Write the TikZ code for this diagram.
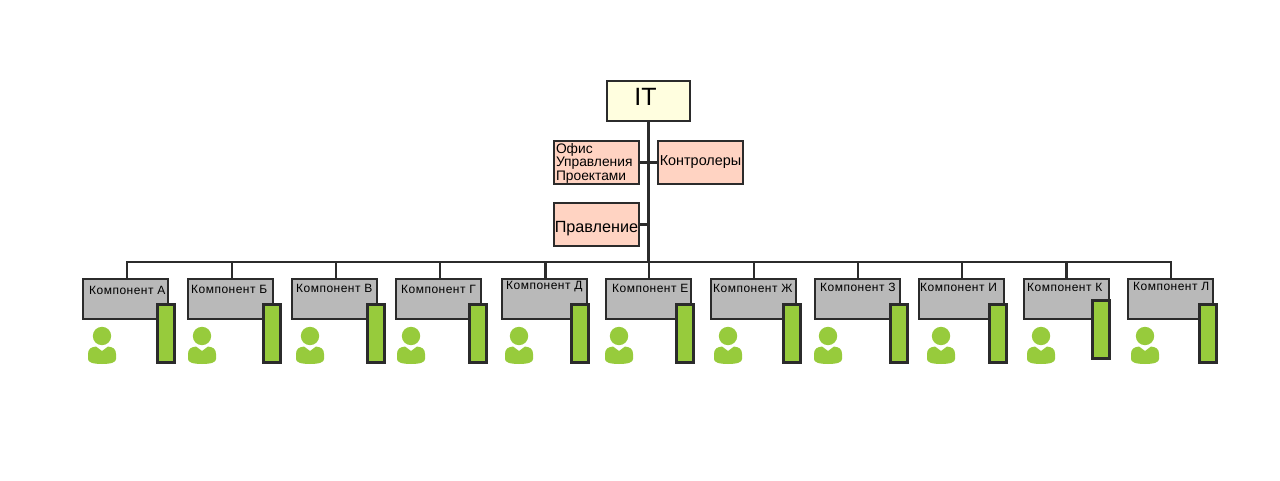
\documentclass[tikz,border=0pt]{standalone}
\usepackage{fontspec}
\setmainfont{Liberation Sans}
\usetikzlibrary{positioning}
\definecolor{linegray}{HTML}{2B2B2B}
\definecolor{topfill}{HTML}{FFFEDF}
\definecolor{stafffill}{HTML}{FFD3C2}
\definecolor{compfill}{HTML}{B9B9B9}
\definecolor{usergreen}{HTML}{97CB3C}
\tikzset{
topbox/.style={draw=linegray,line width=1.8pt,fill=topfill,minimum width=83.2pt,minimum height=40.2pt,inner sep=0pt,text depth=8pt,font=\fontsize{25}{25}\selectfont},
staffbox/.style={draw=linegray,line width=1.8pt,fill=stafffill,minimum width=85.2pt,minimum height=43.2pt,inner sep=0pt,font=\fontsize{13.8}{13.5}\selectfont,align=left},
compbox/.style={draw=linegray,line width=1.8pt,fill=compfill,minimum width=85.2pt,minimum height=40.2pt,inner sep=0pt},
comptext/.style={anchor=west,inner sep=0pt,font=\fontsize{12}{12}\selectfont\addfontfeatures{LetterSpace=4}},
barbox/.style={draw=linegray,line width=2.8pt,fill=usergreen,minimum width=17.2pt,minimum height=58.2pt,inner sep=0pt},
link/.style={draw=linegray,line width=2.4pt},
person/.pic={
\fill[usergreen](0,0)circle(9.2);
\fill[usergreen](0,-15)--(-6,-10.5) .. controls (-11,-11) and (-14,-13) .. (-14,-18)--(-14,-23) .. controls (-14,-26) and (-10,-28) .. (0,-28) .. controls (10,-28) and (14,-26) .. (14,-23)--(14,-18) .. controls (14,-13) and (11,-11) .. (6,-10.5)--cycle;
}
}
\begin{document}
\begin{tikzpicture}[x=1pt,y=1pt]
\useasboundingbox (0,0) rectangle (1280,480);
\coordinate (bus) at (648.5,218);
\node[topbox](it) at (648.5,379){IT\kern6pt};
\draw[link](it.south)--(bus);
\node[staffbox,below left=18pt and -34pt of it,text width=81pt,text height=12.5pt,text depth=30.5pt](office){Офис\\Управления\\Проектами};
\node[staffbox,below right=18pt and -34pt of it,text depth=4pt,font=\fontsize{14.4}{14.4}\selectfont](control){Контролеры};
\node[staffbox,below=17pt of office,text height=19pt,font=\fontsize{16.2}{16.2}\selectfont](board){Правление};
\draw[link](office.east)--(control.west);
\draw[link](board.east)--(board.east-|it.south);
\node[compbox,below left=156pt and 437pt of it](compA){};
\node[compbox,right=18pt of compA](compB){};
\node[compbox,right=17pt of compB](compC){};
\node[compbox,right=17pt of compC](compD){};
\node[compbox,right=19pt of compD](compE){};
\node[compbox,right=17pt of compE](compF){};
\node[compbox,right=18pt of compF](compG){};
\node[compbox,right=17pt of compG](compH){};
\node[compbox,right=17pt of compH](compI){};
\node[compbox,right=18pt of compI](compJ){};
\node[compbox,right=17pt of compJ](compK){};
\node[comptext] (textA) at ([shift={(7,-12)}]compA.north west){Компонент А};
\node[comptext] (textB) at ([shift={(4,-11)}]compB.north west){Компонент Б};
\node[comptext] (textC) at ([shift={(5,-10)}]compC.north west){Компонент В};
\node[comptext] (textD) at ([shift={(6,-11)}]compD.north west){Компонент Г};
\node[comptext] (textE) at ([shift={(5,-9)}]compE.north west){Компонент Д};
\node[comptext] (textF) at ([shift={(7,-10)}]compF.north west){Компонент Е};
\node[comptext] (textG) at ([shift={(3,-10)}]compG.north west){Компонент Ж};
\node[comptext] (textH) at ([shift={(6,-9)}]compH.north west){Компонент З};
\node[comptext] (textI) at ([shift={(2,-9)}]compI.north west){Компонент И};
\node[comptext] (textJ) at ([shift={(4,-9)}]compJ.north west){Компонент К};
\node[comptext] (textK) at ([shift={(6,-8)}]compK.north west){Компонент Л};
\node[barbox,below right=-17pt and -13pt of compA](barA){};
\node[barbox,below right=-17pt and -12pt of compB](barB){};
\node[barbox,below right=-17pt and -12pt of compC](barC){};
\node[barbox,below right=-17pt and -14pt of compD](barD){};
\node[barbox,below right=-17pt and -18pt of compE](barE){};
\node[barbox,below right=-17pt and -17pt of compF](barF){};
\node[barbox,below right=-17pt and -15pt of compG](barG){};
\node[barbox,below right=-17pt and -12pt of compH](barH){};
\node[barbox,below right=-17pt and -17pt of compI](barI){};
\node[barbox,below right=-21pt and -19pt of compJ](barJ){};
\node[barbox,below right=-17pt and -16pt of compK](barK){};
\pic (userA) at ([shift={(20,-16)}]compA.south west){person};
\pic (userB) at ([shift={(15,-16)}]compB.south west){person};
\pic (userC) at ([shift={(19,-16)}]compC.south west){person};
\pic (userD) at ([shift={(16,-16)}]compD.south west){person};
\pic (userE) at ([shift={(18,-16)}]compE.south west){person};
\pic (userF) at ([shift={(14,-16)}]compF.south west){person};
\pic (userG) at ([shift={(18,-16)}]compG.south west){person};
\pic (userH) at ([shift={(14,-16)}]compH.south west){person};
\pic (userI) at ([shift={(23,-16)}]compI.south west){person};
\pic (userJ) at ([shift={(18,-16)}]compJ.south west){person};
\pic (userK) at ([shift={(18,-16)}]compK.south west){person};
\draw[link]([xshift=1.5pt]compA.north)|-(bus)-|([xshift=.5pt]compK.north);
\draw[link]([xshift=1.5pt]compB.north)--([xshift=1.5pt]compB.north|-bus);
\draw[link]([xshift=1.5pt]compC.north)--([xshift=1.5pt]compC.north|-bus);
\draw[link]([xshift=1.5pt]compD.north)--([xshift=1.5pt]compD.north|-bus);
\draw[link]([xshift=1pt]compE.north)--([xshift=1pt]compE.north|-bus);
\draw[link]([xshift=.5pt]compF.north)--([xshift=.5pt]compF.north|-bus);
\draw[link]([xshift=.5pt]compG.north)--([xshift=.5pt]compG.north|-bus);
\draw[link]([xshift=.5pt]compH.north)--([xshift=.5pt]compH.north|-bus);
\draw[link]([xshift=.5pt]compI.north)--([xshift=.5pt]compI.north|-bus);
\draw[link](compJ.north)--(compJ.north|-bus);
\end{tikzpicture}
\end{document}
